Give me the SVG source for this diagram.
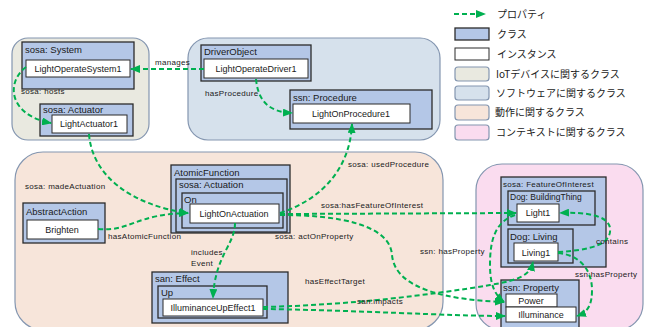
<svg xmlns="http://www.w3.org/2000/svg" width="651" height="327" viewBox="0 0 651 327">
<style>
.cls{fill:#B4C7E7;stroke:#2b2b2b;stroke-width:1.3}
.ins{fill:#ffffff;stroke:#2b2b2b;stroke-width:1}
.grp{stroke:#8496B0;stroke-width:1.2}
.e{fill:none;stroke:#00B050;stroke-width:2;stroke-dasharray:5,3}
.ea{fill:none;stroke:#00B050;stroke-width:2;stroke-dasharray:5,3;marker-end:url(#ah)}
.ct{font-family:"Liberation Sans",Arial,sans-serif;font-size:9.5px;fill:#1a1a1a}
.it{font-family:"Liberation Sans",Arial,sans-serif;font-size:9px;fill:#1a1a1a;text-anchor:middle}
.lb{font-family:"Liberation Sans",Arial,sans-serif;font-size:8px;fill:#1a1a1a;letter-spacing:0.3px}
.lg{font-family:"Noto Sans CJK JP","Liberation Sans",sans-serif;font-size:10px;fill:#1a1a1a}
</style>
<defs>
<marker id="ah" markerUnits="userSpaceOnUse" markerWidth="10" markerHeight="8" refX="9" refY="4" orient="auto">
<path d="M0,0 L10,4 L0,8 z" fill="#00B050"/>
</marker>
</defs>
<rect width="651" height="327" fill="#ffffff"/>

<g id="groups">
<rect class="grp" x="12" y="38" width="137" height="102" rx="16" fill="#E9E9E0"/>
<rect class="grp" x="188" y="38" width="252" height="102" rx="20" fill="#D6E1EC"/>
<rect class="grp" x="15" y="152" width="428" height="178" rx="28" fill="#F7E5DA"/>
<rect class="grp" x="476" y="164" width="167" height="166" rx="26" fill="#FADCEF"/>
</g>

<g id="legend">
<path d="M454,14 L485,14" class="e" marker-end="url(#ah)"/>
<text class="lg" x="497" y="18">プロパティ</text>
<rect x="455" y="28" width="34" height="12" class="cls"/>
<text class="lg" x="497" y="38">クラス</text>
<rect x="455" y="48" width="34" height="12" class="ins"/>
<text class="lg" x="497" y="58">インスタンス</text>
<rect x="455" y="67" width="34" height="14" rx="3" class="grp" fill="#E9E9E0"/>
<text class="lg" x="496" y="78">IoTデバイスに関するクラス</text>
<rect x="455" y="86" width="34" height="14" rx="3" class="grp" fill="#D6E1EC"/>
<text class="lg" x="496" y="97">ソフトウェアに関するクラス</text>
<rect x="455" y="105" width="34" height="15" rx="3" class="grp" fill="#F7E5DA"/>
<text class="lg" x="495" y="116">動作に関するクラス</text>
<rect x="455" y="125" width="34" height="15" rx="3" class="grp" fill="#FADCEF"/>
<text class="lg" x="496" y="136">コンテキストに関するクラス</text>
</g>

<g id="node-system">
<rect class="cls" x="22" y="42" width="112" height="47"/>
<text class="ct" x="25" y="53">sosa: System</text>
<rect class="ins" x="26" y="60" width="104" height="17"/>
<text class="it" x="78" y="72">LightOperateSystem1</text>
</g>
<g id="node-actuator">
<rect class="cls" x="40" y="104" width="93" height="32"/>
<text class="ct" x="43" y="113">sosa: Actuator</text>
<rect class="ins" x="52" y="115" width="75" height="18"/>
<text class="it" x="89" y="127">LightActuator1</text>
</g>
<g id="node-driver">
<rect class="cls" x="201" y="45" width="110" height="36"/>
<text class="ct" x="204" y="55">DriverObject</text>
<rect class="ins" x="204" y="59" width="104" height="19"/>
<text class="it" x="256" y="72">LightOperateDriver1</text>
</g>
<g id="node-procedure">
<rect class="cls" x="290" y="90" width="142" height="39"/>
<text class="ct" x="293" y="101">ssn: Procedure</text>
<rect class="ins" x="293" y="104" width="117" height="19"/>
<text class="it" x="351" y="117">LightOnProcedure1</text>
</g>
<g id="node-actuation">
<rect class="cls" x="171" y="165" width="119" height="68"/>
<text class="ct" x="174" y="176">AtomicFunction</text>
<rect class="cls" x="176" y="179" width="111" height="53"/>
<text class="ct" x="179" y="188">sosa: Actuation</text>
<rect class="cls" x="182" y="193" width="101" height="35"/>
<text class="ct" x="184" y="203">On</text>
<rect class="ins" x="190" y="204" width="89" height="19"/>
<text class="it" x="234" y="217">LightOnActuation</text>
</g>
<g id="node-abstract">
<rect class="cls" x="23" y="203" width="82" height="40"/>
<text class="ct" x="26" y="215">AbstractAction</text>
<rect class="ins" x="27" y="220" width="71" height="19"/>
<text class="it" x="62" y="233">Brighten</text>
</g>
<g id="node-effect">
<rect class="cls" x="152" y="272" width="136" height="51"/>
<text class="ct" x="155" y="282">san: Effect</text>
<rect class="cls" x="158" y="286" width="109" height="32"/>
<text class="ct" x="161" y="296">Up</text>
<rect class="ins" x="163" y="299" width="100" height="17"/>
<text class="it" x="213" y="311">IlluminanceUpEffect1</text>
</g>
<g id="node-foi">
<rect class="cls" x="501" y="177" width="105" height="90"/>
<text class="lb" x="503" y="187">sosa: FeatureOfInterest</text>
<rect class="cls" x="508" y="191" width="87" height="34"/>
<text class="ct" x="510" y="200" style="font-size:8.5px">Dog: BuildingThing</text>
<rect class="ins" x="517" y="204" width="42" height="18"/>
<text class="it" x="538" y="216">Light1</text>
<rect class="cls" x="508" y="229" width="65" height="34"/>
<text class="ct" x="510" y="240">Dog: Living</text>
<rect class="ins" x="514" y="243" width="44" height="18"/>
<text class="it" x="536" y="256">Living1</text>
</g>
<g id="node-property">
<rect class="cls" x="501" y="280" width="78" height="52"/>
<text class="ct" x="503" y="291">ssn: Property</text>
<rect class="ins" x="506" y="294" width="51" height="13"/>
<text class="it" x="531" y="304">Power</text>
<rect class="ins" x="506" y="307" width="70" height="15"/>
<text class="it" x="541" y="318">Illuminance</text>
</g>

<g id="connectors">
<path class="ea" d="M204,69 L131,69"/>
<path class="ea" d="M26,67 C6,82 8,115 51,123"/>
<path class="ea" d="M256,79 C258,100 268,112 292,113"/>
<path class="ea" d="M89,134 C92,175 130,205 188,213"/>
<path class="ea" d="M98,229 C130,232 135,214 188,213"/>
<path class="ea" d="M280,213 C320,200 350,170 352,124"/>
<path class="ea" d="M280,214 L516,213"/>
<path class="ea" d="M280,215 C340,215 390,225 392,255 C395,290 450,300 504,302"/>
<path class="ea" d="M515,215 C495,222 490,240 490,265 C490,285 495,295 504,302"/>
<path class="ea" d="M558,252 C590,250 612,245 610,228 C608,215 585,212 560,213"/>
<path class="ea" d="M558,253 C580,255 592,270 592,290 C592,305 588,312 577,316"/>
<path class="ea" d="M235,223 C235,245 215,255 213,298"/>
<path class="ea" d="M263,307 C350,305 430,295 490,285 C520,280 530,275 533,262"/>
<path class="ea" d="M263,309 C350,310 450,316 505,316"/>
</g>

<g id="labels">
<text class="lb" x="155" y="65">manages</text>
<text class="lb" x="21" y="94">sosa: hosts</text>
<text class="lb" x="205" y="96">hasProcedure</text>
<text class="lb" x="25" y="189">sosa: madeActuation</text>
<text class="lb" x="108" y="239">hasAtomicFunction</text>
<text class="lb" x="348" y="167">sosa: usedProcedure</text>
<text class="lb" x="321" y="208">sosa:hasFeatureOfInterest</text>
<text class="lb" x="275" y="239">sosa: actOnProperty</text>
<text class="lb" x="420" y="254">ssn: hasProperty</text>
<text class="lb" x="305" y="284">hasEffectTarget</text>
<text class="lb" x="357" y="304">san:impacts</text>
<text class="lb" x="191" y="255">includes</text>
<text class="lb" x="191" y="266">Event</text>
<text class="lb" x="596" y="244">contains</text>
<text class="lb" x="575" y="277">ssn:hasProperty</text>
</g>
</svg>
